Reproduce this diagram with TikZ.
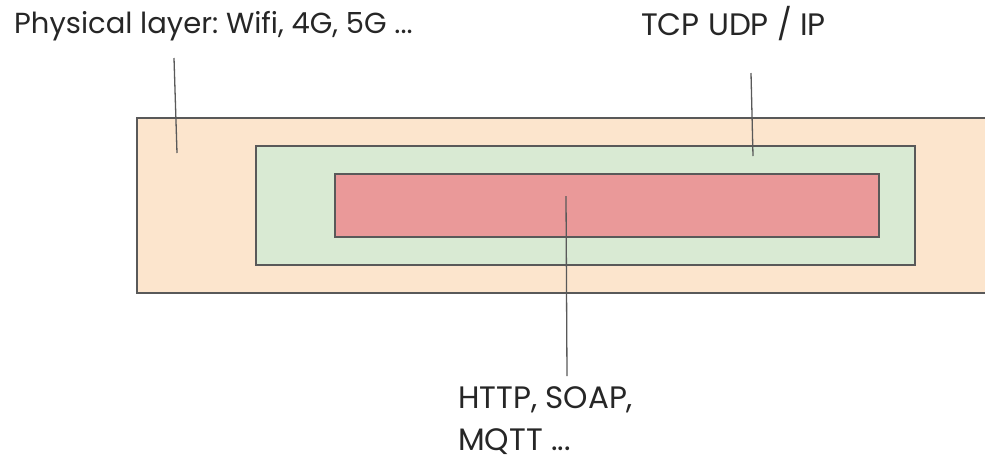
\documentclass[tikz,border=0pt]{standalone}
\usepackage{fontspec}
\setmainfont{Poppins}[Ligatures=NoCommon]
\frenchspacing
\definecolor{peach}{HTML}{FCE5CD}
\definecolor{mint}{HTML}{D9EAD3}
\definecolor{rose}{HTML}{EA9999}
\definecolor{edge}{HTML}{595959}
\begin{document}
\begin{tikzpicture}[x=1pt,y=-1pt,
  layer/.style={draw=edge,line width=1.6pt,inner sep=0pt,outer sep=0pt},
  lbl/.style={inner sep=0pt,anchor=base west,text=black!85},
  lead/.style={draw=edge,line width=1.3pt}]
\useasboundingbox (0,0) rectangle (985,459);
\begin{scope}
\clip (0,0) rectangle (985,459);
\node[layer,fill=peach,anchor=north west,minimum width=870pt,minimum height=175pt] (phys) at (137,118) {};
\node[layer,fill=mint,anchor=north west,minimum width=659pt,minimum height=119pt] (tcp) at (256,146) {};
\node[layer,fill=rose,anchor=north west,minimum width=544pt,minimum height=63pt] (app) at (335,174) {};
\end{scope}
\node[lbl,font=\fontsize{29}{44}\selectfont] (tphys) at (14,33) {Physical layer: Wifi, 4G, 5G ...};
\node[lbl,font=\fontsize{31}{44}\selectfont] (ttcp) at (641,35) {TCP UDP / IP};
\node[lbl,font=\fontsize{31}{42}\selectfont,align=left,text depth=0pt] (tapp) at (458,450) {HTTP, SOAP,\\MQTT ...};
\coordinate (p1) at (174,58); \coordinate (p2) at (177,153);
\coordinate (c1) at (751,73); \coordinate (c2) at (753,156);
\coordinate (a1) at (566,196); \coordinate (a2) at (567,376);
\draw[lead] (p1) -- (p2);
\draw[lead] (c1) -- (c2);
\draw[lead] (a1) -- (a2);
\end{tikzpicture}
\end{document}
